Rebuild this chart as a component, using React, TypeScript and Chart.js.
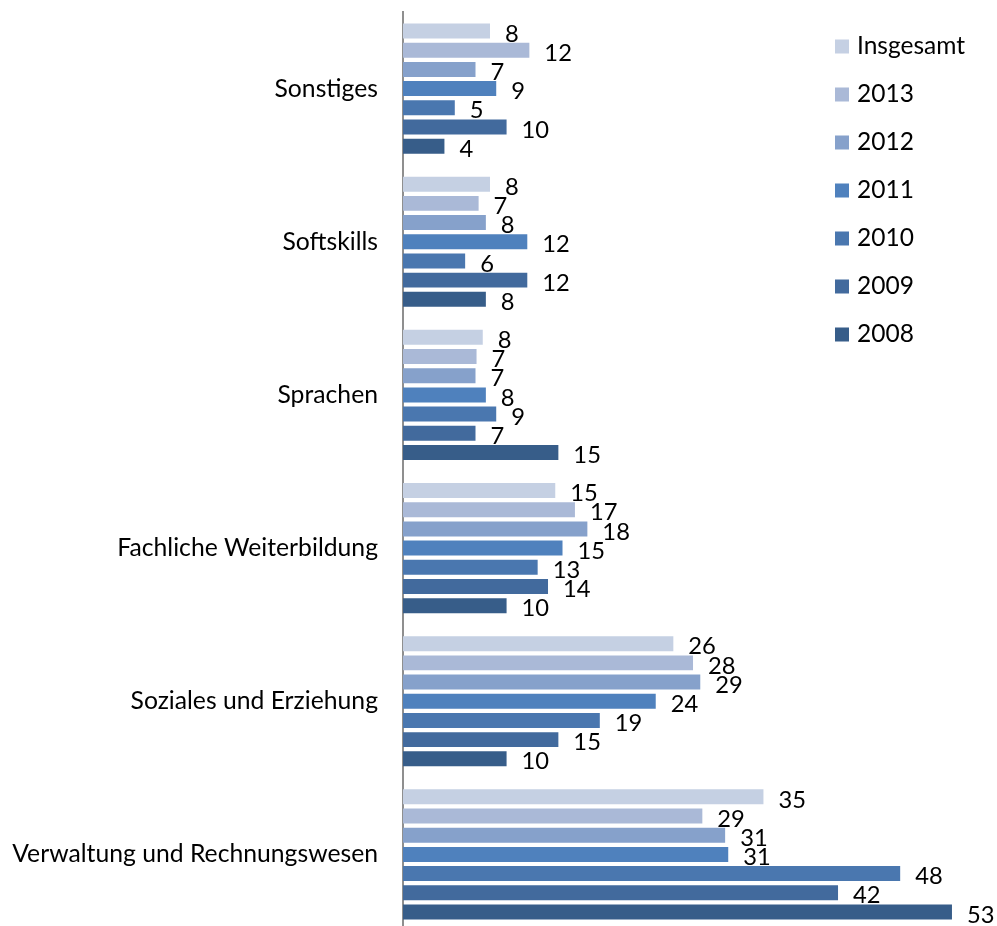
import React, { useEffect, useRef } from "react";
import { Chart, registerables } from "chart.js";

Chart.register(...registerables);

const categories = [
  "Sonstiges",
  "Softskills",
  "Sprachen",
  "Fachliche Weiterbildung",
  "Soziales und Erziehung",
  "Verwaltung und Rechnungswesen",
];

const seriesNames = ["Insgesamt", "2013", "2012", "2011", "2010", "2009", "2008"];

const insgesamt = [8.4, 8.4, 7.7, 14.7, 26.1, 34.8];
const y2013 = [12.2, 7.3, 7.1, 16.6, 28.0, 28.9];
const y2012 = [7.0, 8.0, 7.0, 17.8, 28.7, 31.1];
const y2011 = [9.0, 12.0, 8.0, 15.4, 24.4, 31.4];
const y2010 = [5.0, 6.0, 9.0, 13.0, 19.0, 48.0];
const y2009 = [10, 12, 7, 14, 15, 42];
const y2008 = [4, 8, 15, 10, 10, 53];

const seriesValues = [insgesamt, y2013, y2012, y2011, y2010, y2009, y2008];

const colors = ["#C5D0E3", "#AAB9D7", "#86A1CB", "#4F81BD", "#4A77AF", "#426A9D", "#375D89"];

const FAMILY = "Lato, 'Noto Sans', sans-serif";

function fitFont(text: string, target: number): number {
  const c = document.createElement("canvas").getContext("2d")!;
  c.font = `100px ${FAMILY}`;
  return (100 * target) / c.measureText(text).width;
}

export default function App() {
  const ref = useRef<HTMLCanvasElement>(null);

  useEffect(() => {
    const catSize = fitFont("Verwaltung und Rechnungswesen", 366);
    const legSize = fitFont("Insgesamt", 108);
    const lblSize = catSize * 0.96;

    const labelPlugin = {
      id: "barLabels",
      afterDatasetsDraw(chart: any) {
        const ctx = chart.ctx;
        ctx.save();
        ctx.font = `${lblSize}px ${FAMILY}`;
        ctx.fillStyle = "#000";
        ctx.textAlign = "left";
        ctx.textBaseline = "middle";
        chart.data.datasets.forEach((ds: any, di: number) => {
          const meta = chart.getDatasetMeta(di);
          meta.data.forEach((el: any, i: number) => {
            const v = ds.data[i] as number;
            ctx.fillText(String(Math.round(v)), el.x + 15, el.y + 3);
          });
        });
        ctx.restore();
      },
    };

    const legendPlugin = {
      id: "customLegend",
      afterDraw(chart: any) {
        const ctx = chart.ctx;
        ctx.save();
        ctx.font = `${legSize}px ${FAMILY}`;
        ctx.textAlign = "left";
        ctx.textBaseline = "middle";
        seriesNames.forEach((name, i) => {
          const cy = 46.5 + i * 48;
          ctx.fillStyle = colors[i];
          ctx.fillRect(835, cy - 7, 14, 14);
          ctx.fillStyle = "#000";
          ctx.fillText(name, 857, cy);
        });
        ctx.restore();
      },
    };

    const chart = new Chart(ref.current!, {
      type: "bar",
      data: {
        labels: categories,
        datasets: seriesNames.map((name, i) => ({
          label: name,
          data: seriesValues[i],
          backgroundColor: colors[i],
          borderWidth: 0,
          categoryPercentage: 0.877,
          barPercentage: 0.78,
        })),
      },
      options: {
        indexAxis: "y",
        responsive: false,
        animation: false,
        layout: { padding: { top: 12, bottom: 9, left: 0, right: 3.6 } },
        plugins: {
          legend: { display: false },
          tooltip: { enabled: false },
        },
        scales: {
          x: {
            display: false,
            min: 0,
            max: 57,
          },
          y: {
            grid: { display: false, drawTicks: false },
            border: { display: true, color: "#8F8F8F", width: 2 },
            ticks: {
              color: "#000",
              padding: 25,
              font: { family: FAMILY, size: catSize },
            },
            afterFit(scale: any) {
              scale.width = 403;
              scale.paddingTop = 0;
              scale.paddingBottom = 0;
            },
          },
        },
      },
      plugins: [labelPlugin, legendPlugin],
    });
    return () => chart.destroy();
  }, []);

  return (
    <div
      style={{
        position: "fixed",
        left: 0,
        top: 0,
        width: 997,
        height: 926,
        overflow: "hidden",
        background: "#fff",
      }}
    >
      <canvas ref={ref} width={997} height={940} style={{ display: "block" }} />
    </div>
  );
}
